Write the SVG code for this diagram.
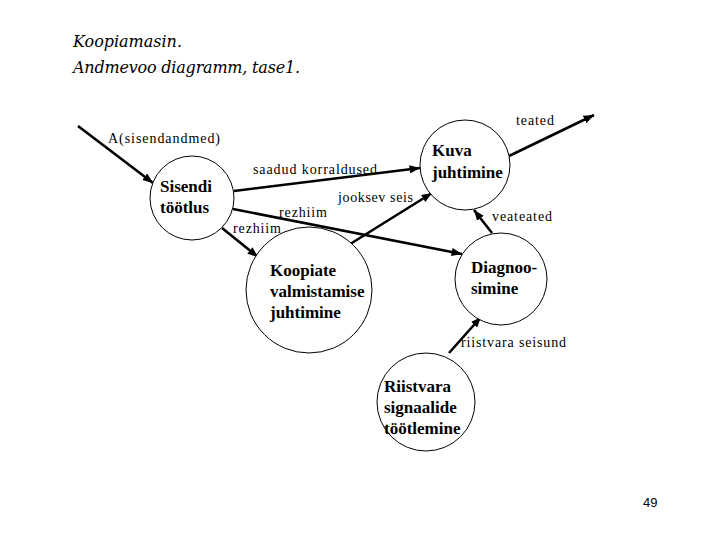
<svg xmlns="http://www.w3.org/2000/svg" width="720" height="540" viewBox="0 0 720 540">
<style>
.node{fill:#fff;stroke:#000;stroke-width:1}
.nl{font-family:'Liberation Serif','Times New Roman',serif;font-weight:bold;font-size:17px;fill:#000}
.el{font-family:'Liberation Serif','Times New Roman',serif;font-size:14px;fill:#000}
.title{font-family:'DejaVu Serif','Liberation Serif',serif;font-style:italic;font-size:16px;fill:#000}
.flow{stroke:#000;stroke-width:2.6;fill:none;marker-end:url(#ah)}
</style>
<defs>
<marker id="ah" viewBox="0 0 10 8" refX="10" refY="4" markerWidth="4" markerHeight="3.2" orient="auto" markerUnits="strokeWidth">
<path d="M0,0 L10,4 L0,8 z" fill="#000"/>
</marker>
</defs>
<rect width="720" height="540" fill="#fff"/>
<text class="title" x="73" y="47" textLength="109">Koopiamasin.</text>
<text class="title" x="73" y="73" textLength="227">Andmevoo diagramm, tase1.</text>

<g id="connectors">
<line class="flow" x1="78" y1="126" x2="153" y2="183"/>
<line class="flow" x1="234" y1="191" x2="420" y2="168"/>
<line class="flow" x1="233" y1="209" x2="462" y2="254"/>
<line class="flow" x1="222" y1="228" x2="258" y2="257"/>
<line class="flow" x1="347" y1="246" x2="432" y2="193"/>
<line class="flow" x1="509" y1="156" x2="594" y2="115"/>
<line class="flow" x1="492" y1="233" x2="474" y2="210"/>
<line class="flow" x1="449" y1="353" x2="481" y2="317"/>
<text class="el" x="108" y="143" textLength="112">A(sisendandmed)</text>
<text class="el" x="253" y="174" textLength="124">saadud korraldused</text>
<text class="el" x="338" y="202" textLength="75">jooksev seis</text>
<text class="el" x="279" y="217" textLength="48">rezhiim</text>
<text class="el" x="233" y="233" textLength="48">rezhiim</text>
<text class="el" x="516" y="125" textLength="38">teated</text>
<text class="el" x="492" y="221" textLength="60">veateated</text>
<text class="el" x="461" y="347" textLength="105">riistvara seisund</text>
</g>

<g id="sisendi">
<circle class="node" cx="192" cy="198" r="42"/>
<text class="nl" x="160" y="192">Sisendi</text>
<text class="nl" x="160" y="213">töötlus</text>
</g>
<g id="kuva">
<circle class="node" cx="465" cy="165" r="45"/>
<text class="nl" x="432" y="156">Kuva</text>
<text class="nl" x="432" y="178">juhtimine</text>
</g>
<g id="koopiate">
<circle class="node" cx="309" cy="290" r="63"/>
<text class="nl" x="270" y="276">Koopiate</text>
<text class="nl" x="270" y="297">valmistamise</text>
<text class="nl" x="270" y="318">juhtimine</text>
</g>
<g id="diagnoosimine">
<circle class="node" cx="501" cy="279" r="46"/>
<text class="nl" x="471" y="273">Diagnoo-</text>
<text class="nl" x="471" y="294">simine</text>
</g>
<g id="riistvara">
<circle class="node" cx="426" cy="402" r="49"/>
<text class="nl" x="384" y="392">Riistvara</text>
<text class="nl" x="384" y="413">signaalide</text>
<text class="nl" x="384" y="434">töötlemine</text>
</g>
<text x="643" y="507" font-family="Liberation Sans, sans-serif" font-size="13" fill="#000">49</text>
</svg>
